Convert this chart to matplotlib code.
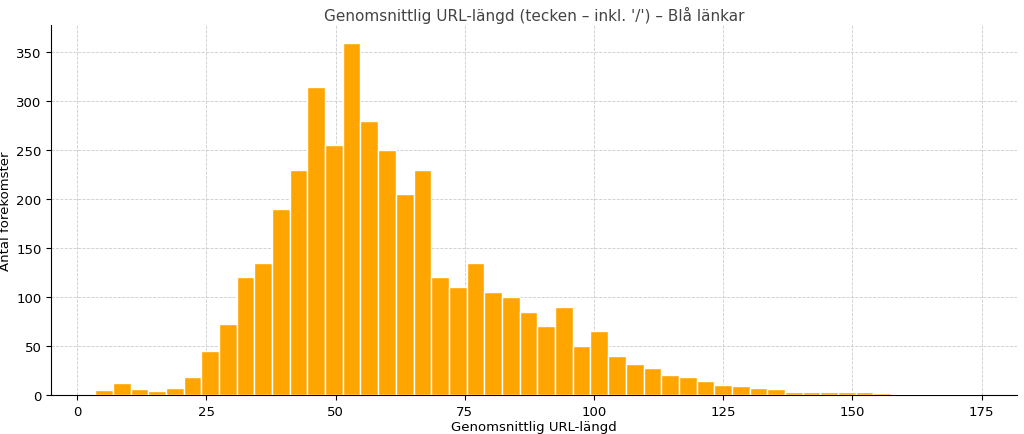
import numpy as np
import matplotlib
matplotlib.use('Agg')
import matplotlib.pyplot as plt

# histogram counts, 50 equal bins between bin_lo and bin_hi
bin_lo = 3.5
bin_hi = 174.6
counts = [5, 12, 6, 4, 7, 18, 45, 72, 120, 135,
          190, 230, 315, 255, 360, 280, 250, 205, 230, 120,
          110, 135, 105, 100, 85, 70, 90, 50, 65, 40,
          32, 27, 20, 18, 14, 10, 9, 7, 6, 3,
          3, 3, 3, 3, 2, 1, 1, 1, 1, 1]
xticks = [0, 25, 50, 75, 100, 125, 150, 175]

edges = np.linspace(bin_lo, bin_hi, len(counts) + 1)

fig, ax = plt.subplots(figsize=(10.24, 4.35), dpi=100)
ax.bar(edges[:-1], counts, width=np.diff(edges), align='edge',
       color='#FFA500', edgecolor='white', linewidth=1, zorder=3)
ax.set_title("Genomsnittlig URL-längd (tecken – inkl. '/') – Blå länkar",
             fontsize=11, color='#444444', pad=4)
ax.set_xlabel('Genomsnittlig URL-längd', fontsize=9.5, labelpad=2)
ax.set_ylabel('Antal förekomster', fontsize=9.5, labelpad=3)
ax.tick_params(labelsize=9.5)
ax.set_xticks(xticks)
ax.set_xlim(-5, 181.8)
ax.set_ylim(0, 378)
ax.grid(True, linestyle='--', linewidth=0.6, color='#cccccc', zorder=0)
for s in ['top', 'right']:
    ax.spines[s].set_visible(False)
fig.subplots_adjust(left=0.05, right=0.993, top=0.94, bottom=0.09)
fig.savefig('out.png')
